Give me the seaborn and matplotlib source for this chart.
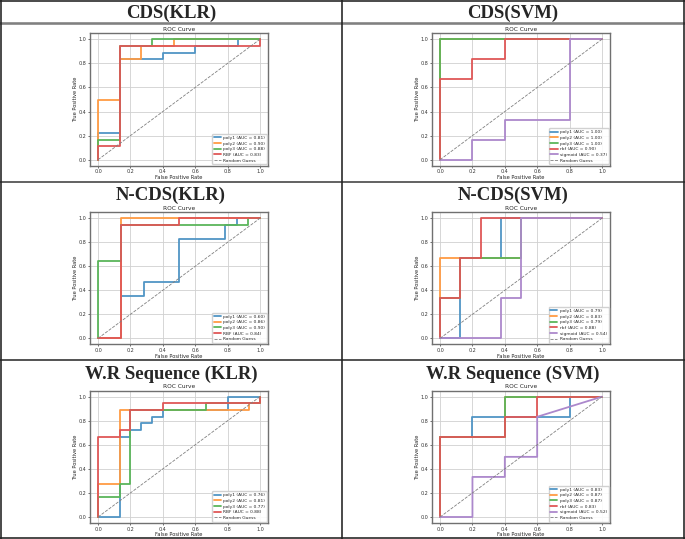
import matplotlib
matplotlib.use("Agg")
import matplotlib.pyplot as plt
import seaborn as sns

# ---- data: ROC curve vertices ----
# CDS (KLR)
cds_klr_poly1_fpr = [0, 0, 0.133, 0.133, 0.4, 0.4, 0.6, 0.6, 0.867, 0.867, 1]
cds_klr_poly1_tpr = [0, 0.222, 0.222, 0.833, 0.833, 0.889, 0.889, 0.944, 0.944, 1, 1]
cds_klr_poly2_fpr = [0, 0, 0.133, 0.133, 0.267, 0.267, 0.467, 0.467, 1]
cds_klr_poly2_tpr = [0, 0.5, 0.5, 0.833, 0.833, 0.944, 0.944, 1, 1]
cds_klr_poly3_fpr = [0, 0, 0.133, 0.133, 0.333, 0.333, 1]
cds_klr_poly3_tpr = [0, 0.167, 0.167, 0.944, 0.944, 1, 1]
cds_klr_rbf_fpr = [0, 0, 0.133, 0.133, 1, 1]
cds_klr_rbf_tpr = [0, 0.111, 0.111, 0.944, 0.944, 1]
cds_klr_labels = ["poly1 (AUC = 0.81)", "poly2 (AUC = 0.90)", "poly3 (AUC = 0.88)", "RBF (AUC = 0.83)"]

# CDS (SVM)
cds_svm_poly_fpr = [0, 0, 1]
cds_svm_poly_tpr = [0, 1, 1]
cds_svm_rbf_fpr = [0, 0, 0.2, 0.2, 0.4, 0.4, 1]
cds_svm_rbf_tpr = [0, 0.667, 0.667, 0.833, 0.833, 1, 1]
cds_svm_sig_fpr = [0, 0.2, 0.2, 0.4, 0.4, 0.8, 0.8, 1]
cds_svm_sig_tpr = [0, 0, 0.167, 0.167, 0.333, 0.333, 1, 1]
cds_svm_labels = ["poly1 (AUC = 1.00)", "poly2 (AUC = 1.00)", "poly3 (AUC = 1.00)",
                  "rbf (AUC = 0.90)", "sigmoid (AUC = 0.37)"]

# N-CDS (KLR)
ncds_klr_poly1_fpr = [0, 0.143, 0.143, 0.286, 0.286, 0.5, 0.5, 0.786, 0.786, 0.857, 0.857, 1]
ncds_klr_poly1_tpr = [0, 0, 0.353, 0.353, 0.471, 0.471, 0.824, 0.824, 0.941, 0.941, 1, 1]
ncds_klr_poly2_fpr = [0, 0.143, 0.143, 1]
ncds_klr_poly2_tpr = [0, 0, 1, 1]
ncds_klr_poly3_fpr = [0, 0, 0.143, 0.143, 0.929, 0.929, 1]
ncds_klr_poly3_tpr = [0, 0.647, 0.647, 0.941, 0.941, 1, 1]
ncds_klr_rbf_fpr = [0, 0.143, 0.143, 0.5, 0.5, 1]
ncds_klr_rbf_tpr = [0, 0, 0.941, 0.941, 1, 1]
ncds_klr_labels = ["poly1 (AUC = 0.60)", "poly2 (AUC = 0.86)", "poly3 (AUC = 0.90)", "RBF (AUC = 0.84)"]

# N-CDS (SVM)
ncds_svm_poly1_fpr = [0, 0.125, 0.125, 0.375, 0.375, 1]
ncds_svm_poly1_tpr = [0, 0, 0.667, 0.667, 1, 1]
ncds_svm_poly2_fpr = [0, 0, 0.5, 0.5, 1]
ncds_svm_poly2_tpr = [0, 0.667, 0.667, 1, 1]
ncds_svm_poly3_fpr = [0, 0, 0.125, 0.125, 0.5, 0.5, 1]
ncds_svm_poly3_tpr = [0, 0.333, 0.333, 0.667, 0.667, 1, 1]
ncds_svm_rbf_fpr = [0, 0, 0.125, 0.125, 0.25, 0.25, 1]
ncds_svm_rbf_tpr = [0, 0.333, 0.333, 0.667, 0.667, 1, 1]
ncds_svm_sig_fpr = [0, 0.375, 0.375, 0.5, 0.5, 1]
ncds_svm_sig_tpr = [0, 0, 0.333, 0.333, 1, 1]
ncds_svm_labels = ["poly1 (AUC = 0.79)", "poly2 (AUC = 0.83)", "poly3 (AUC = 0.79)",
                   "rbf (AUC = 0.88)", "sigmoid (AUC = 0.54)"]

# W.R Sequence (KLR)
wr_klr_poly1_fpr = [0, 0.133, 0.133, 0.2, 0.2, 0.267, 0.267, 0.333, 0.333, 0.4, 0.4, 0.8, 0.8, 1]
wr_klr_poly1_tpr = [0, 0, 0.667, 0.667, 0.722, 0.722, 0.778, 0.778, 0.833, 0.833, 0.889, 0.889, 1, 1]
wr_klr_poly2_fpr = [0, 0, 0.133, 0.133, 0.933, 0.933, 1, 1]
wr_klr_poly2_tpr = [0, 0.278, 0.278, 0.889, 0.889, 0.944, 0.944, 1]
wr_klr_poly3_fpr = [0, 0, 0.133, 0.133, 0.2, 0.2, 0.667, 0.667, 1, 1]
wr_klr_poly3_tpr = [0, 0.167, 0.167, 0.278, 0.278, 0.889, 0.889, 0.944, 0.944, 1]
wr_klr_rbf_fpr = [0, 0, 0.133, 0.133, 0.2, 0.2, 0.4, 0.4, 1, 1]
wr_klr_rbf_tpr = [0, 0.667, 0.667, 0.722, 0.722, 0.889, 0.889, 0.944, 0.944, 1]
wr_klr_labels = ["poly1 (AUC = 0.76)", "poly2 (AUC = 0.81)", "poly3 (AUC = 0.77)", "RBF (AUC = 0.88)"]

# W.R Sequence (SVM)
wr_svm_poly1_fpr = [0, 0, 0.2, 0.2, 0.8, 0.8, 1]
wr_svm_poly1_tpr = [0, 0.667, 0.667, 0.833, 0.833, 1, 1]
wr_svm_poly23_fpr = [0, 0, 0.4, 0.4, 1]
wr_svm_poly23_tpr = [0, 0.667, 0.667, 1, 1]
wr_svm_rbf_fpr = [0, 0, 0.4, 0.4, 0.6, 0.6, 1]
wr_svm_rbf_tpr = [0, 0.667, 0.667, 0.833, 0.833, 1, 1]
wr_svm_sig_fpr = [0, 0.2, 0.2, 0.4, 0.4, 0.6, 0.6, 1]
wr_svm_sig_tpr = [0, 0, 0.333, 0.333, 0.5, 0.5, 0.833, 1]
wr_svm_labels = ["poly1 (AUC = 0.83)", "poly2 (AUC = 0.87)", "poly3 (AUC = 0.87)",
                 "rbf (AUC = 0.83)", "sigmoid (AUC = 0.52)"]

headers = ["CDS(KLR)", "CDS(SVM)", "N-CDS(KLR)", "N-CDS(SVM)",
           "W.R Sequence (KLR)", "W.R Sequence (SVM)"]
diag = [0, 1]

# tab10, washed out a little like the downscaled original
colors = [tuple(0.78 * v + 0.22 for v in c) for c in sns.color_palette("tab10")]

panels = [
    ([cds_klr_poly1_fpr, cds_klr_poly2_fpr, cds_klr_poly3_fpr, cds_klr_rbf_fpr],
     [cds_klr_poly1_tpr, cds_klr_poly2_tpr, cds_klr_poly3_tpr, cds_klr_rbf_tpr], cds_klr_labels),
    ([cds_svm_poly_fpr, cds_svm_poly_fpr, cds_svm_poly_fpr, cds_svm_rbf_fpr, cds_svm_sig_fpr],
     [cds_svm_poly_tpr, cds_svm_poly_tpr, cds_svm_poly_tpr, cds_svm_rbf_tpr, cds_svm_sig_tpr], cds_svm_labels),
    ([ncds_klr_poly1_fpr, ncds_klr_poly2_fpr, ncds_klr_poly3_fpr, ncds_klr_rbf_fpr],
     [ncds_klr_poly1_tpr, ncds_klr_poly2_tpr, ncds_klr_poly3_tpr, ncds_klr_rbf_tpr], ncds_klr_labels),
    ([ncds_svm_poly1_fpr, ncds_svm_poly2_fpr, ncds_svm_poly3_fpr, ncds_svm_rbf_fpr, ncds_svm_sig_fpr],
     [ncds_svm_poly1_tpr, ncds_svm_poly2_tpr, ncds_svm_poly3_tpr, ncds_svm_rbf_tpr, ncds_svm_sig_tpr], ncds_svm_labels),
    ([wr_klr_poly1_fpr, wr_klr_poly2_fpr, wr_klr_poly3_fpr, wr_klr_rbf_fpr],
     [wr_klr_poly1_tpr, wr_klr_poly2_tpr, wr_klr_poly3_tpr, wr_klr_rbf_tpr], wr_klr_labels),
    ([wr_svm_poly1_fpr, wr_svm_poly23_fpr, wr_svm_poly23_fpr, wr_svm_rbf_fpr, wr_svm_sig_fpr],
     [wr_svm_poly1_tpr, wr_svm_poly23_tpr, wr_svm_poly23_tpr, wr_svm_rbf_tpr, wr_svm_sig_tpr], wr_svm_labels),
]

sns.set_style("ticks")
W, H = 685, 539
fig = plt.figure(figsize=(W / 100, H / 100), dpi=100)

# background axes in pixel units for the table frame and headers
bg = fig.add_axes([0, 0, 1, 1], zorder=-1)
bg.set_xlim(0, W)
bg.set_ylim(H, 0)
bg.axis("off")

pt = 0.72  # points per pixel at 100 dpi
bg.axhline(0.8, color="#222222", lw=1.6 * pt)
bg.axhline(23, color="#808080", lw=2.6 * pt)
bg.axhline(181.5, color="#333333", lw=1.5 * pt)
bg.axhline(359.8, color="#444444", lw=1.8 * pt)
bg.axhline(537.8, color="#222222", lw=1.6 * pt)
for xv in (0.8, 342, 684):
    bg.axvline(xv, color="#222222", lw=1.6 * pt)

col_x = [(90, 268), (432, 610)]
row_y = [(33.3, 165.7), (212.3, 344.3), (390.7, 523)]
header_base = [18.3, 200, 378.7]

for i, (fprs, tprs, labels) in enumerate(panels):
    r, c = divmod(i, 2)
    (x0, x1), (y0, y1) = col_x[c], row_y[r]
    bg.text((x0 + x1) / 2 - 8, header_base[r], headers[i], ha="center", va="baseline",
            fontsize=13.5, fontweight="bold", family="Liberation Serif")

    ax = fig.add_axes([x0 / W, 1 - y1 / H, (x1 - x0) / W, (y1 - y0) / H])
    for k, (fx, ty) in enumerate(zip(fprs, tprs)):
        sns.lineplot(x=fx, y=ty, sort=False, estimator=None, ax=ax, color=colors[k],
                     lw=1.3, label=labels[k])
    sns.lineplot(x=diag, y=diag, ax=ax, color="gray", lw=0.6, ls="--", label="Random Guess")

    ax.set_xlim(-0.05, 1.05)
    ax.set_ylim(-0.05, 1.05)
    ax.set_xticks([0, 0.2, 0.4, 0.6, 0.8, 1.0])
    ax.set_yticks([0, 0.2, 0.4, 0.6, 0.8, 1.0])
    ax.grid(True, color="#d0d0d0", lw=0.6)
    ax.tick_params(labelsize=3.5, length=1.6, width=0.5, pad=1.0, colors="#333333")
    ax.set_title("ROC Curve", fontsize=4.2, pad=2)
    ax.set_xlabel("False Positive Rate", fontsize=3.7, labelpad=0.6)
    ax.set_ylabel("True Positive Rate", fontsize=3.7, labelpad=0.6)
    for sp in ax.spines.values():
        sp.set_color("#707070")
        sp.set_linewidth(1.0)
    ax.legend(loc="lower right", fontsize=3.2, handlelength=1.6, handletextpad=0.5,
              borderpad=0.4, labelspacing=0.35, borderaxespad=0.3, framealpha=0.9,
              edgecolor="#cccccc", fancybox=True)

fig.savefig("out.png", dpi=100)
